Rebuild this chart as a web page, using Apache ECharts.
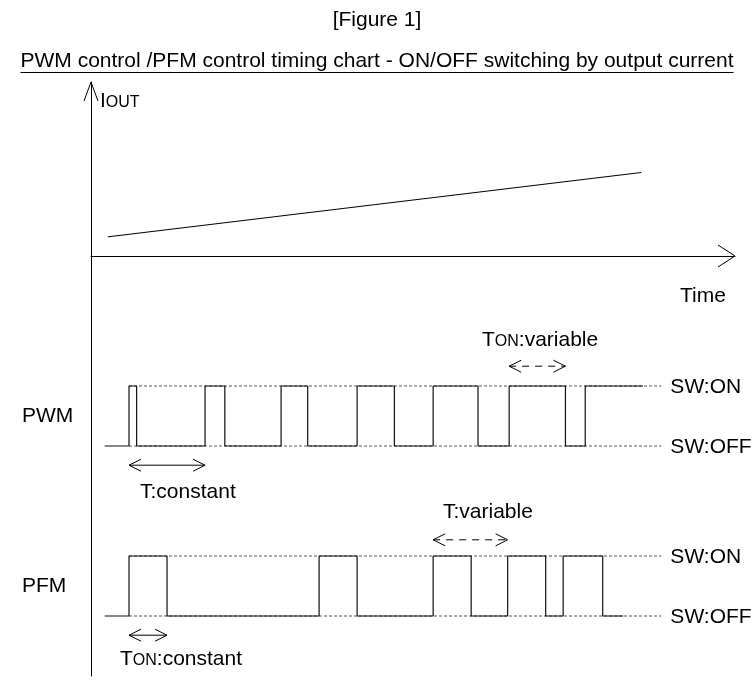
<!DOCTYPE html>
<html><head><meta charset="utf-8">
<script src="https://cdn.jsdelivr.net/npm/echarts@6/dist/echarts.min.js"></script>
<style>html,body{margin:0;padding:0;background:#fff;} #c{width:755px;height:686px;}</style>
</head><body><div id="c"></div>
<script>
// ---- data (time in arbitrary units, PWM period = 10) ----
const timeMax = 84.7;
const ioutTime = [2.2, 72.4];
const ioutLevel = [1.1, 4.8];
const pwmStart = 1.8;
const pwmOnStart = [5, 15, 25, 35, 45, 55, 65];
const pwmOnEnd = [6.0, 17.6, 28.5, 39.9, 50.9, 62.4, 72.6];
const pfmStart = 1.8;
const pfmOnStart = [5, 30, 45, 54.8, 62.1];
const pfmOnEnd = [10, 35, 50, 59.8, 67.3];
const pfmEnd = 70;
const refSpan = [5, 75];
const levelNames = ['SW:OFF', 'SW:ON'];
const rowNames = ['PWM', 'PFM'];
// double-headed arrow annotations: [grid, from, to, level, dashed]
const arrowFrom = [55, 5, 45, 5];
const arrowTo = [62.4, 15, 54.8, 10];

const FONT = '"Liberation Sans", Arial, sans-serif';
const FS = 21;

function wave(start, ons, offs, end) {
  const pts = [[start, 0]];
  for (let i = 0; i < ons.length; i++) {
    pts.push([ons[i], 0], [ons[i], 1], [offs[i], 1]);
    if (!(end === undefined && i === ons.length - 1)) pts.push([offs[i], 0]);
  }
  if (end !== undefined) pts.push([end, 0]);
  return pts;
}

const chart = echarts.init(document.getElementById('c'), null, {renderer: 'canvas'});
const hidden = {show: false};
function xAx(i, showLine) {
  return {type: 'value', gridIndex: i, min: 0, max: timeMax,
    axisLine: {show: showLine, onZero: false, lineStyle: {color: '#000', width: 1}},
    axisTick: hidden, axisLabel: hidden, splitLine: hidden};
}
function yAx(i, min, max, showLine) {
  return {type: 'value', gridIndex: i, min: min, max: max,
    axisLine: {show: showLine, onZero: false, lineStyle: {color: '#000', width: 1}},
    axisTick: hidden, axisLabel: hidden, splitLine: hidden};
}
const dashStyle = {color: '#555', width: 1, type: [3, 2]};
const waveStyle = {color: '#111', width: 1.2};
function lineSeries(xi, data, style) {
  return {type: 'line', xAxisIndex: xi, yAxisIndex: xi, data: data, symbol: 'none',
    clip: false, silent: true, animation: false, lineStyle: style};
}

chart.setOption({
  animation: false,
  grid: [
    {left: 91, top: 82, width: 644, height: 174},
    {left: 91, top: 386, width: 644, height: 60},
    {left: 91, top: 556, width: 644, height: 60},
    {left: 91, top: 256, width: 644, height: 420}
  ],
  xAxis: [xAx(0, true), xAx(1, false), xAx(2, false), xAx(3, false)],
  yAxis: [yAx(0, 0, 10, true), yAx(1, 0, 1, false), yAx(2, 0, 1, false), yAx(3, 0, 1, true)],
  series: [
    lineSeries(0, ioutTime.map((t, i) => [t, ioutLevel[i]]), {color: '#000', width: 1}),
    lineSeries(1, [[refSpan[0], 1], [refSpan[1], 1]], dashStyle),
    lineSeries(1, [[refSpan[0], 0], [refSpan[1], 0]], dashStyle),
    lineSeries(1, wave(pwmStart, pwmOnStart, pwmOnEnd), waveStyle),
    lineSeries(2, [[refSpan[0], 1], [refSpan[1], 1]], dashStyle),
    lineSeries(2, [[refSpan[0], 0], [refSpan[1], 0]], dashStyle),
    lineSeries(2, wave(pfmStart, pfmOnStart, pfmOnEnd, pfmEnd), waveStyle)
  ]
});

function px(g, v) { return chart.convertToPixel({gridIndex: g}, v); }
const graphics = [];
function text(str, x, y, opts) {
  graphics.push({type: 'text', silent: true, style: Object.assign({
    text: str, x: x, y: y, fill: '#000', font: FS + 'px ' + FONT,
    textAlign: 'left', textVerticalAlign: 'middle'}, opts || {})});
}
function richText(big, small, rest, x, y) {
  graphics.push({type: 'text', silent: true, style: {
    text: '{a|' + big + '}{b|' + small + '}{a|' + rest + '}', x: x, y: y,
    textAlign: 'left', textVerticalAlign: 'middle',
    rich: {a: {fontSize: FS, fontFamily: FONT, fill: '#000', verticalAlign: 'bottom'},
           b: {fontSize: 16, fontFamily: FONT, fill: '#000', verticalAlign: 'bottom', padding: [0, 0, 1, 0]}}}});
}
function poly(points, dash) {
  graphics.push({type: 'polyline', silent: true, shape: {points: points},
    style: {stroke: '#000', lineWidth: 1, fill: null, lineDash: dash || null}});
}
function chevronRight(p, len, half) { poly([[p[0] - len, p[1] - half], p, [p[0] - len, p[1] + half]]); }
function chevronLeft(p, len, half) { poly([[p[0] + len, p[1] - half], p, [p[0] + len, p[1] + half]]); }

// axis arrowheads
const xEnd = px(0, [timeMax, 0]);
chevronRight(xEnd, 17, 11);
const yTop = px(0, [0, 10]);
poly([[yTop[0] - 7, yTop[1] + 19], yTop, [yTop[0] + 7, yTop[1] + 19]]);

// double arrows
const arrowGrid = [1, 1, 2, 2];
const arrowLevel = [1.33, -0.32, 1.27, -0.32];
const arrowDashed = [true, false, true, false];
for (let i = 0; i < arrowFrom.length; i++) {
  const a = px(arrowGrid[i], [arrowFrom[i], arrowLevel[i]]);
  const b = px(arrowGrid[i], [arrowTo[i], arrowLevel[i]]);
  poly([a, b], arrowDashed[i] ? [7, 6] : null);
  chevronLeft(a, 12, 6);
  chevronRight(b, 12, 6);
}

// titles
text('[Figure 1]', 377, 20, {textAlign: 'center'});
const title2 = 'PWM control /PFM control timing chart - ON/OFF switching by output current';
text(title2, 377, 61, {textAlign: 'center'});
const ctx = document.createElement('canvas').getContext('2d');
ctx.font = FS + 'px ' + FONT;
const tw = ctx.measureText(title2).width;
poly([[377 - tw / 2, 72.5], [377 + tw / 2, 72.5]]);

// axis labels
richText('I', 'OUT', '', 100, 101);
text('Time', 680, 296);

// row / level labels
for (let r = 0; r < 2; r++) {
  const g = r + 1;
  const on = px(g, [76.2, 1]);
  const off = px(g, [76.2, 0]);
  text(levelNames[1], on[0], on[1] + 1);
  text(levelNames[0], off[0], off[1] + 1);
  const mid = px(g, [0, 0.5]);
  text(rowNames[r], 22, mid[1]);
}

// annotation labels
richText('T', 'ON', ':variable', 482, 340);
text('T:constant', 140, 492);
text('T:variable', 443, 512);
richText('T', 'ON', ':constant', 120, 659);

chart.setOption({graphic: graphics});
</script></body></html>
